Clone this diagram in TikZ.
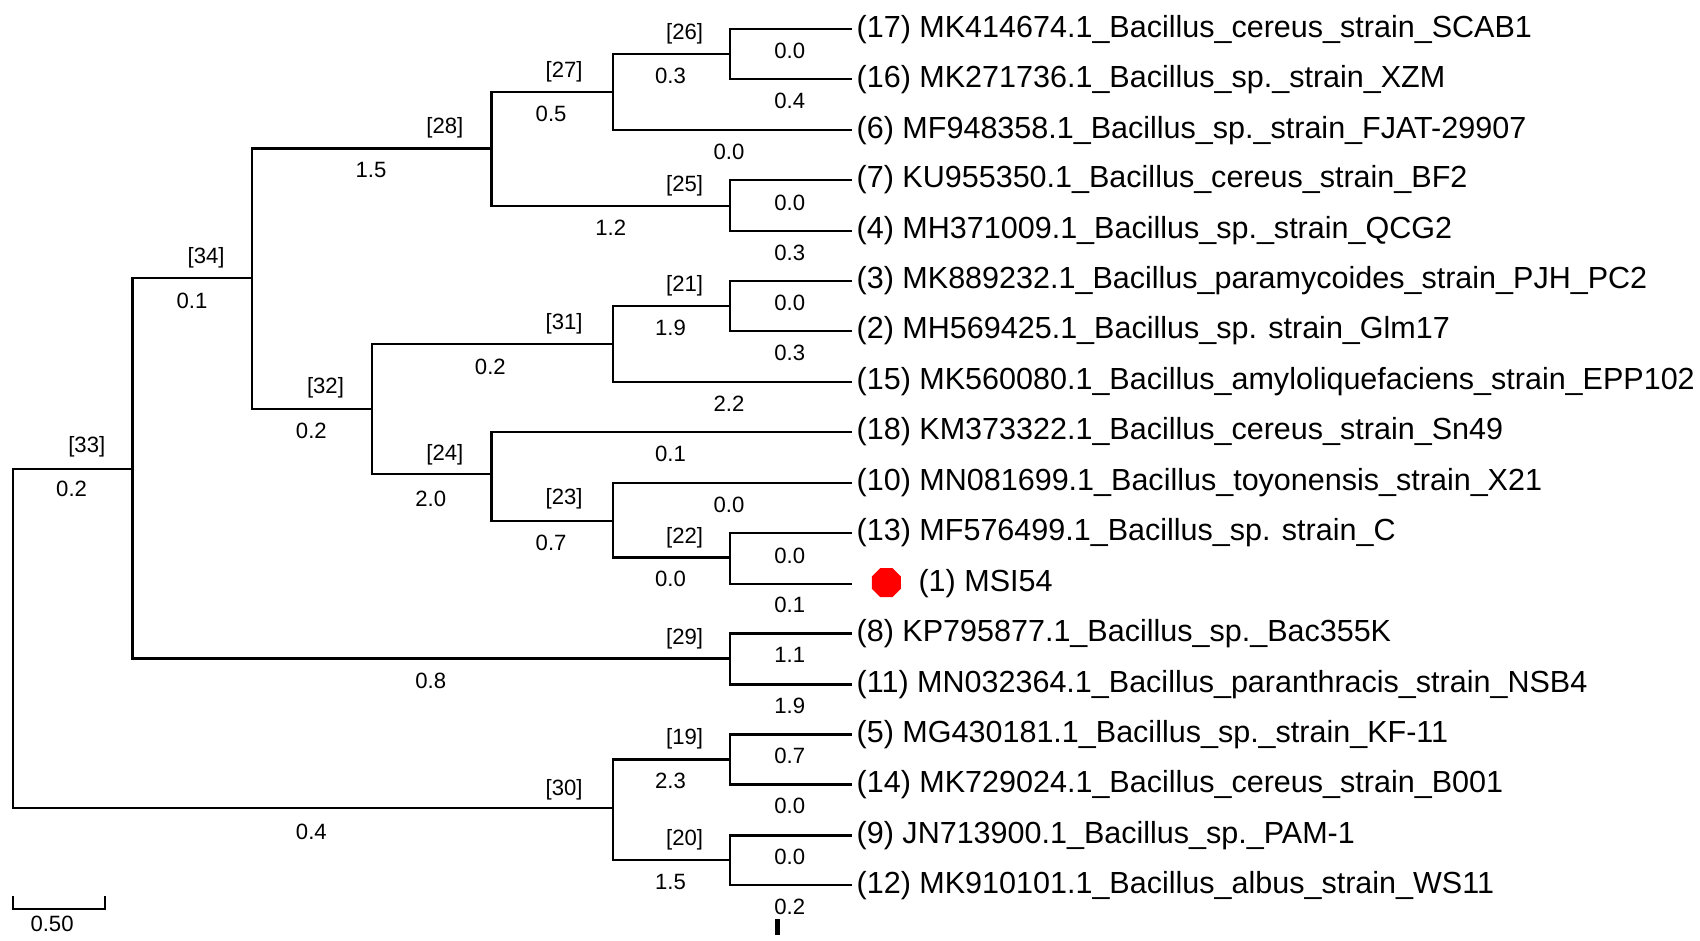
\documentclass[tikz,border=0pt]{standalone}
\usepackage{fontspec}
\setmainfont{Liberation Sans}
\usetikzlibrary{shapes.geometric}
\begin{document}
\begin{tikzpicture}[x=0.01cm,y=-0.01cm,
  br/.style={line width=0.6pt},
  leaf/.style={anchor=west,inner sep=0pt,font=\fontsize{8pt}{9pt}\selectfont},
  lab/.style={inner sep=0pt,font=\fontsize{5.8pt}{6pt}\selectfont}]
\useasboundingbox (0,0) rectangle (1567,867);
% leaves
\foreach \n/\y/\t in {l17/27/{(17) MK414674.1\_Bacillus\_cereus\_strain\_SCAB1},
 l16/73/{(16) MK271736.1\_Bacillus\_sp.\_strain\_XZM},
 l6/120/{(6) MF948358.1\_Bacillus\_sp.\_strain\_FJAT-29907},
 l7/166/{(7) KU955350.1\_Bacillus\_cereus\_strain\_BF2},
 l4/213/{(4) MH371009.1\_Bacillus\_sp.\_strain\_QCG2},
 l3/259/{(3) MK889232.1\_Bacillus\_paramycoides\_strain\_PJH\_PC2},
 l2/305/{(2) MH569425.1\_Bacillus\_sp. strain\_Glm17},
 l15/352/{(15) MK560080.1\_Bacillus\_amyloliquefaciens\_strain\_EPP102},
 l18/398/{(18) KM373322.1\_Bacillus\_cereus\_strain\_Sn49},
 l10/445/{(10) MN081699.1\_Bacillus\_toyonensis\_strain\_X21},
 l13/491/{(13) MF576499.1\_Bacillus\_sp. strain\_C},
 l8/584/{(8) KP795877.1\_Bacillus\_sp.\_Bac355K},
 l11/631/{(11) MN032364.1\_Bacillus\_paranthracis\_strain\_NSB4},
 l5/677/{(5) MG430181.1\_Bacillus\_sp.\_strain\_KF-11},
 l14/723/{(14) MK729024.1\_Bacillus\_cereus\_strain\_B001},
 l9/770/{(9) JN713900.1\_Bacillus\_sp.\_PAM-1},
 l12/816/{(12) MK910101.1\_Bacillus\_albus\_strain\_WS11}}
 {\coordinate (\n) at (785,\y); \node[leaf] (t\n) at (789,\y) {\t};}
\coordinate (l1) at (785,538);
\node[regular polygon,regular polygon sides=8,fill=red,inner sep=0pt,minimum size=0.29cm] (oct) at (817,537) {};
\node[leaf] (tl1) at (846,538) {(1) MSI54};
% internal nodes
\coordinate (n26) at (673,50);
\coordinate (n27) at (565,85);
\coordinate (n25) at (673,190);
\coordinate (n28) at (453,137);
\coordinate (n21) at (673,282);
\coordinate (n31) at (565,317);
\coordinate (n22) at (673,514);
\coordinate (n23) at (565,480);
\coordinate (n24) at (453,437);
\coordinate (n32) at (343,377);
\coordinate (n34) at (232,256);
\coordinate (n29) at (673,607);
\coordinate (n33) at (122,432);
\coordinate (n19) at (673,700);
\coordinate (n20) at (673,793);
\coordinate (n30) at (565,745);
\coordinate (root) at (12,588);
\begin{scope}[br]
\draw (l17) -| (n26) |- (l16);
\draw (n26) -| (n27) |- (l6);
\draw (l7) -| (n25) |- (l4);
\draw (n27) -| (n28) |- (n25);
\draw (l3) -| (n21) |- (l2);
\draw (n21) -| (n31) |- (l15);
\draw (l13) -| (n22) |- (l1);
\draw (l10) -| (n23) |- (n22);
\draw (l18) -| (n24) |- (n23);
\draw (n31) -| (n32) |- (n24);
\draw (n28) -| (n34) |- (n32);
\draw (l8) -| (n29) |- (l11);
\draw (n34) -| (n33) |- (n29);
\draw (l5) -| (n19) |- (l14);
\draw (l9) -| (n20) |- (l12);
\draw (n19) -| (n30) |- (n20);
\draw (n33) -| (root) |- (n30);
\end{scope}
% node labels
\foreach \x/\y/\t in {631/31/26,520/66/27,410/118/28,631/171/25,190/238/34,631/263/21,520/298/31,300/357/32,410/419/24,520/460/23,631/496/22,80/412/33,631/589/29,631/681/19,520/728/30,631/774/20}
 \node[lab] (k\t) at (\x,\y) {[\t]};
% branch labels
\foreach \i/\x/\y/\t in {1/728/47/0.0,2/728/93/0.4,3/618/70/0.3,4/508/105/0.5,5/672/140/0.0,6/342/157/1.5,7/728/187/0.0,8/728/233/0.3,9/563/210/1.2,10/177/277/0.1,11/728/279/0.0,12/728/325/0.3,13/618/302/1.9,14/452/338/0.2,15/672/372/2.2,16/287/397/0.2,17/618/418/0.1,18/397/460/2.0,19/672/465/0.0,20/508/500/0.7,21/728/512/0.0,22/618/534/0.0,23/728/558/0.1,24/66/451/0.2,25/397/628/0.8,26/728/604/1.1,27/728/651/1.9,28/728/697/0.7,29/728/743/0.0,30/618/720/2.3,31/287/767/0.4,32/728/790/0.0,33/728/836/0.2,34/618/813/1.5}
 \node[lab] (b\i) at (\x,\y) {\t};
% scale bar
\coordinate (s1) at (12,838); \coordinate (s2) at (97,838);
\coordinate (s1t) at (12,826); \coordinate (s2t) at (97,826);
\draw[br] (s1t) -- (s1) -- (s2) -- (s2t);
\node[lab] (sl) at (48,852) {0.50};
\fill (714,847) rectangle (719,862);
\end{tikzpicture}
\end{document}
